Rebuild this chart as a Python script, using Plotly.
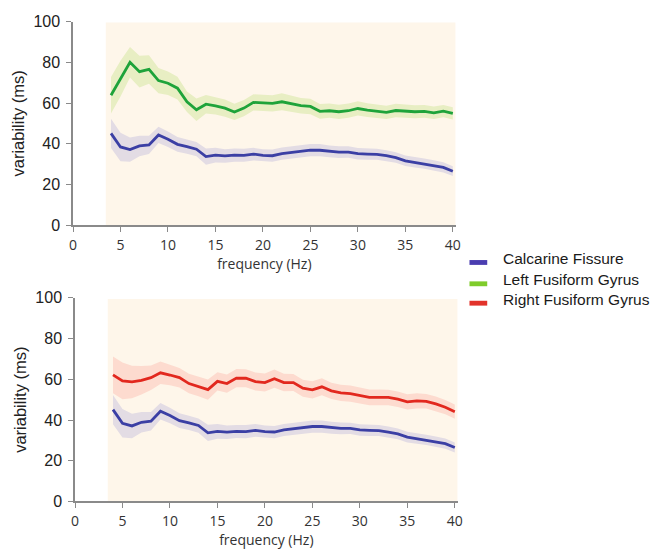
import plotly.graph_objects as go

W, H = 651, 556

freq = list(range(4, 41))
calc_mean = [45.1, 38.4, 37.1, 38.9, 39.4, 44.3, 42.2, 39.7, 38.6, 37.3, 33.7,
             34.4, 34.0, 34.4, 34.3, 34.9, 34.3, 34.1, 35.1, 35.7, 36.2, 36.8,
             36.8, 36.2, 35.9, 35.9, 35.1, 34.9, 34.8, 34.1, 33.2, 31.6, 30.8,
             30.2, 29.4, 28.4, 26.5]
calc_err = [7.2, 7.0, 6.0, 5.0, 4.5, 4.0, 3.8, 3.6, 3.5, 3.5, 4.0,
            3.6, 3.3, 3.2, 3.2, 3.1, 3.0, 3.0, 3.0, 3.0, 3.0, 3.0,
            3.0, 2.9, 2.9, 2.8, 2.8, 2.8, 2.7, 2.7, 2.6, 2.6, 2.5,
            2.5, 2.5, 2.5, 2.4]
left_mean = [63.8, 72.0, 80.0, 75.4, 76.5, 71.0, 69.7, 67.3, 60.6, 56.7, 59.4,
             58.6, 57.5, 55.6, 57.5, 60.3, 60.2, 59.8, 60.6, 59.5, 58.7, 58.3,
             55.9, 56.2, 55.7, 56.2, 57.3, 56.5, 55.9, 55.4, 56.3, 55.9, 55.7,
             55.9, 55.2, 56.0, 54.9]
left_err = [9.0, 8.8, 7.5, 7.8, 7.0, 6.2, 5.8, 5.6, 5.0, 5.5, 4.5,
            4.3, 4.2, 4.0, 4.0, 4.0, 4.0, 4.0, 4.2, 4.0, 3.8, 3.8,
            3.6, 3.5, 3.5, 3.5, 3.5, 3.4, 3.4, 3.3, 3.3, 3.2, 3.2,
            3.1, 3.1, 3.0, 3.0]
right_mean = [62.2, 59.2, 58.7, 59.5, 60.8, 63.2, 62.1, 60.8, 57.9, 56.5, 54.9,
              59.0, 57.9, 60.6, 60.5, 58.9, 58.4, 60.3, 58.4, 58.4, 55.6, 54.8,
              56.3, 54.3, 53.3, 53.0, 52.1, 51.1, 51.1, 51.1, 50.2, 48.9, 49.4,
              49.2, 47.9, 46.3, 44.1]
right_err = [9.0, 9.0, 8.0, 7.0, 6.0, 5.5, 5.0, 4.8, 4.8, 4.8, 5.0,
             4.5, 4.5, 4.5, 4.4, 4.4, 4.4, 4.5, 4.3, 4.2, 4.2, 4.2,
             4.2, 4.0, 4.0, 4.0, 4.0, 3.9, 3.9, 3.8, 3.8, 3.7, 3.7,
             3.6, 3.6, 3.5, 3.5]

legend_names = ["Calcarine Fissure", "Left Fusiform Gyrus", "Right Fusiform Gyrus"]
legend_colors = ["#4a3db0", "#7fcc2b", "#e2332b"]

x_ticks = list(range(0, 45, 5))
y_ticks = list(range(0, 120, 20))
x_title = "frequency (Hz)"
y_title = "variability (ms)"

BLUE, GREEN, RED = "#3b3fa4", "#1ea33a", "#e2281e"
BLUE_BAND, GREEN_BAND, RED_BAND = "#e3dce4", "#e8eec3", "#fddbcf"
BG = "#fef6ea"

fig = go.Figure()


def add_series(mean, err, line_color, band_color, xa, ya):
    upper = [m + e for m, e in zip(mean, err)]
    lower = [m - e for m, e in zip(mean, err)]
    fig.add_trace(go.Scatter(
        x=freq + freq[::-1], y=upper + lower[::-1], fill="toself",
        fillcolor=band_color, line=dict(width=0), mode="lines",
        showlegend=False, hoverinfo="skip", xaxis=xa, yaxis=ya))
    fig.add_trace(go.Scatter(
        x=freq, y=mean, mode="lines", line=dict(color=line_color, width=2.8),
        showlegend=False, xaxis=xa, yaxis=ya))


add_series(left_mean, left_err, GREEN, GREEN_BAND, "x", "y")
add_series(calc_mean, calc_err, BLUE, BLUE_BAND, "x", "y")
add_series(right_mean, right_err, RED, RED_BAND, "x2", "y2")
add_series(calc_mean, calc_err, BLUE, BLUE_BAND, "x2", "y2")


def px_x(p):
    return p / W


def px_y(p):
    return (H - p) / H


axis_common = dict(showline=True, linecolor="#8a8a8a", linewidth=1.5,
                   ticks="outside", ticklen=5, tickcolor="#8a8a8a", tickwidth=1.2,
                   showgrid=False, zeroline=False)

xcommon = dict(axis_common, range=[0, 40.3], tickvals=x_ticks,
               tickfont=dict(family="Open Sans", size=14, color="#333333"),
               ticklabelstandoff=1,
               title=dict(text=x_title, font=dict(family="Open Sans", size=14, color="#333333"),
                          standoff=0))
ycommon = dict(axis_common, range=[0, 100], tickvals=y_ticks,
               tickfont=dict(family="Liberation Sans", size=16, color="#222222"),
               ticklabelstandoff=3,
               title=dict(text=y_title, font=dict(family="Liberation Sans", size=16.5, color="#222222"),
                          standoff=5))

fig.update_layout(
    width=W, height=H,
    margin=dict(l=0, r=0, t=0, b=0),
    paper_bgcolor="white", plot_bgcolor="rgba(0,0,0,0)",
    showlegend=False,
    xaxis=dict(xcommon, domain=[px_x(70), px_x(458)], anchor="y"),
    yaxis=dict(ycommon, domain=[px_y(224), px_y(14)], anchor="x"),
    xaxis2=dict(xcommon, domain=[px_x(72), px_x(460)], anchor="y2"),
    yaxis2=dict(ycommon, domain=[px_y(509), px_y(299)], anchor="x2"),
)

for xr, yr in (("x", "y"), ("x2", "y2")):
    fig.add_shape(type="rect", xref=xr, yref=yr, x0=3.45, x1=40.3, y0=0, y1=99.5,
                  fillcolor=BG, line=dict(width=0), layer="below")

legend_text_y = [258.5, 280.5, 300.5]
for name, col, ty in zip(legend_names, legend_colors, legend_text_y):
    fig.add_shape(type="rect", xref="paper", yref="paper",
                  x0=px_x(472), x1=px_x(490), y0=px_y(ty + 6.5), y1=px_y(ty + 1.5),
                  fillcolor=col, line=dict(width=0))
    fig.add_annotation(x=px_x(504), y=px_y(ty), xref="paper", yref="paper",
                       text=name, showarrow=False, xanchor="left", yanchor="middle",
                       font=dict(family="Liberation Sans", size=15.5, color="#1a1a1a"))

fig.write_html("out.html")
